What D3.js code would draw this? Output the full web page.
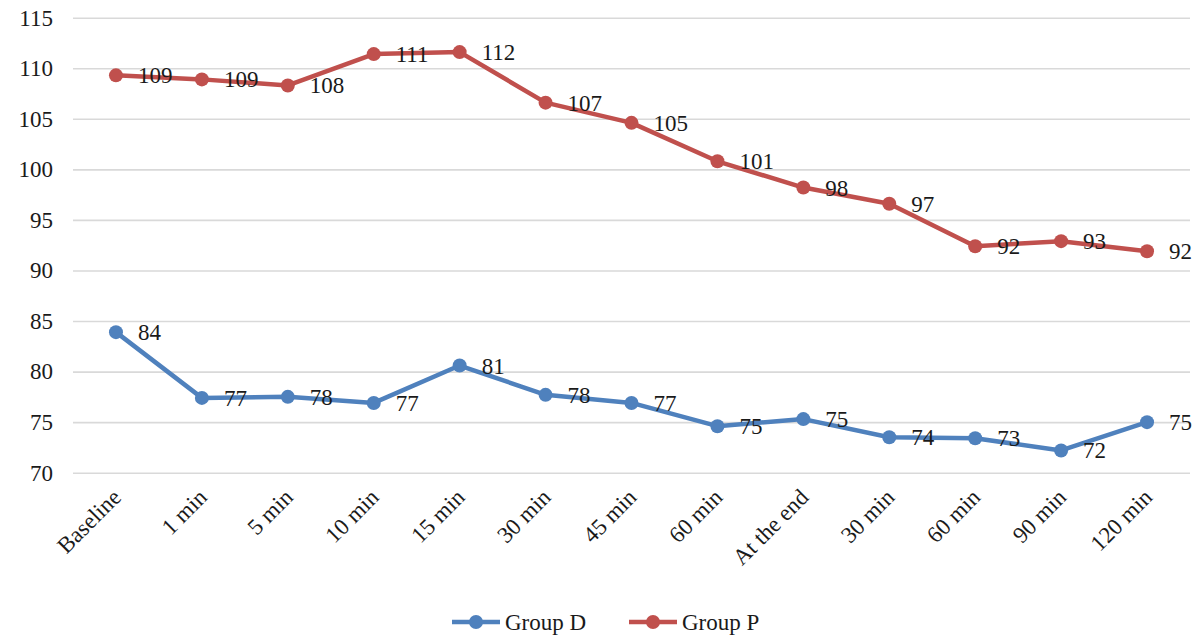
<!DOCTYPE html>
<html>
<head>
<meta charset="utf-8">
<script src="https://cdn.jsdelivr.net/npm/d3@7"></script>
<style>
  html, body { margin: 0; padding: 0; background: #ffffff; }
  svg { display: block; }
</style>
</head>
<body>
<svg id="chart" width="1200" height="638"></svg>
<script>
// Time points along the x axis (labels repeat, so positions are keyed by index)
const categories = ["Baseline", "1 min", "5 min", "10 min", "15 min", "30 min", "45 min",
                    "60 min", "At the end", "30 min", "60 min", "90 min", "120 min"];

// Series values
const groupD = [83.9, 77.4, 77.5, 76.9, 80.6, 77.7, 76.9, 74.6, 75.3, 73.5, 73.4, 72.2, 75.0];
const groupP = [109.3, 108.9, 108.3, 111.4, 111.6, 106.6, 104.6, 100.8, 98.2, 96.6, 92.4, 92.9, 91.9];

const seriesNames = ["Group D", "Group P"];
const seriesColors = ["#4f81bd", "#c0504d"];

// Y axis ticks
const yTicks = [70, 75, 80, 85, 90, 95, 100, 105, 110, 115];

const serif = "Liberation Serif, Tinos, Times New Roman, Times, DejaVu Serif, Noto Serif, FreeSerif, serif";
const fontSize = 23;

const svg = d3.select("#chart").attr("font-family", serif).attr("font-size", fontSize);
const plotLeft = 73, plotRight = 1190, plotTop = 17.7, plotBottom = 472.7;

const x = d3.scalePoint()
  .domain(d3.range(categories.length))
  .range([plotLeft, plotRight])
  .padding(0.5);

const y = d3.scaleLinear()
  .domain([70, 115])
  .range([plotBottom, plotTop]);

// Horizontal gridlines
const grid = svg.append("g")
  .attr("transform", `translate(${plotLeft},0)`)
  .call(d3.axisLeft(y).tickValues(yTicks).tickSize(-(plotRight - plotLeft)).tickFormat(""));
grid.select(".domain").remove();
grid.selectAll("line").attr("stroke", "#d9d9d9").attr("stroke-width", 1.6);

// Y tick labels
const yAxis = svg.append("g")
  .attr("transform", `translate(53,0)`)
  .call(d3.axisLeft(y).tickValues(yTicks).tickSize(0).tickPadding(0))
  .attr("font-family", serif)
  .attr("font-size", fontSize);
yAxis.select(".domain").remove();
yAxis.selectAll("text").attr("fill", "#1a1a1a");

// X axis labels, rotated
const xAxis = svg.append("g")
  .attr("transform", `translate(0,${plotBottom})`)
  .call(d3.axisBottom(x).tickSize(0).tickFormat(i => categories[i]))
  .attr("font-family", serif)
  .attr("font-size", fontSize);
xAxis.select(".domain").remove();
xAxis.selectAll("text")
  .attr("fill", "#1a1a1a")
  .attr("text-anchor", "end")
  .attr("dy", null)
  .attr("y", null)
  .attr("transform", "translate(6,26) rotate(-45)");

// Lines, markers and value labels
const line = d3.line()
  .x((d, i) => x(i))
  .y(d => y(d));

[groupD, groupP].forEach((vals, s) => {
  const g = svg.append("g");
  g.append("path")
    .datum(vals)
    .attr("fill", "none")
    .attr("stroke", seriesColors[s])
    .attr("stroke-width", 4.5)
    .attr("stroke-linejoin", "round")
    .attr("d", line);
  g.selectAll("circle")
    .data(vals)
    .join("circle")
    .attr("cx", (d, i) => x(i))
    .attr("cy", d => y(d))
    .attr("r", 7)
    .attr("fill", seriesColors[s]);
  g.selectAll("text")
    .data(vals)
    .join("text")
    .attr("x", (d, i) => x(i) + 22)
    .attr("y", d => y(d) + 8)
    .attr("fill", "#1a1a1a")
    .text(d => Math.round(d));
});

// Legend
const legendX = [452, 629];
seriesNames.forEach((name, s) => {
  const lg = svg.append("g")
    .attr("transform", `translate(${legendX[s]},622)`);
  lg.append("line")
    .attr("x1", 0).attr("x2", 48)
    .attr("y1", 0).attr("y2", 0)
    .attr("stroke", seriesColors[s])
    .attr("stroke-width", 4.5);
  lg.append("circle")
    .attr("cx", 24).attr("cy", 0).attr("r", 7)
    .attr("fill", seriesColors[s]);
  lg.append("text")
    .attr("x", 53).attr("y", 8)
    .attr("fill", "#1a1a1a")
    .text(name);
});
</script>
</body>
</html>
